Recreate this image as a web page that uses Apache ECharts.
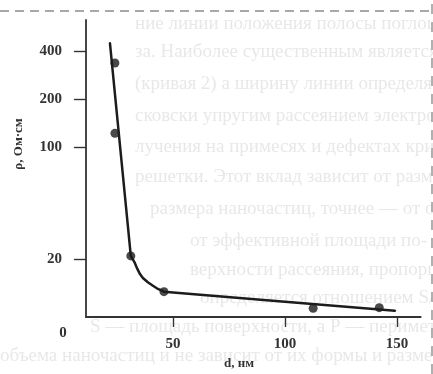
<!DOCTYPE html>
<html>
<head>
<meta charset="utf-8">
<script src="https://cdn.jsdelivr.net/npm/echarts@6/dist/echarts.min.js"></script>
<style>
  html, body { margin: 0; padding: 0; background: #fff; }
  #chart { width: 433px; height: 374px; }
</style>
</head>
<body>
<div id="chart"></div>
<script>
// Resistivity of a nanostructured film versus grain size d.
// Measured points, d in nm and ρ in Ом·см
const sizeMeasured = [24.1, 24.1, 31.2, 46.0, 112.6, 142.1];
const rhoMeasured  = [336, 122, 20.9, 12.5, 9.85, 9.93];

// Hand-drawn trend curve: steep fall, a short knee, then a slow linear decline
const sizeTrend = [21.9, 31.2, 33.0, 33.9, 35.3, 36.6, 38.8, 41.1, 43.3, 46.0, 100.0, 149.1];
const rhoTrend  = [446, 20.9, 18.9, 17.6, 16.1, 15.2, 14.3, 13.6, 13.0, 12.5, 10.8, 9.5];

// Axis ticks
const xTicks = [50, 100, 150];
const yTicks = [20, 100, 200, 400];

// Running text of the page the figure is printed on
const pageLines = [
  'ние линии положения полосы поглощения',
  'за. Наиболее существенным является',
  '(кривая 2) а ширину линии определяет',
  'сковски упругим рассеянием электронов',
  'лучения на примесях и дефектах крис',
  'решетки. Этот вклад зависит от разме',
  'размера наночастиц, точнее — от отно',
  'от эффективной площади по-',
  'верхности рассеяния, пропорцио',
  'определяется отношением S/P, где',
  'S — площадь поверхности, а P — периметр частицы',
  'объема наночастиц и не зависит от их формы и размера'
];
const pageLineX = [135, 135, 135, 135, 135, 135, 150, 190, 190, 200, 90, 0];
const pageLineY = [24, 52, 84, 116, 147, 177, 209, 241, 270, 298, 327, 356];

const lg = v => Math.log10(v);
const serif = '"Liberation Serif", "DejaVu Serif", serif';

// The ρ axis is logarithmic: values are plotted as log10(ρ) on a value axis
const yMin = lg(20) - 58 / 160;
const yMax = lg(20) + 239 / 160;

const chart = echarts.init(document.getElementById('chart'), null, { renderer: 'canvas' });

const pageText = pageLines.map((t, i) => ({
  type: 'text',
  z: -10,
  silent: true,
  x: pageLineX[i],
  y: pageLineY[i],
  style: {
    text: t,
    fill: '#e8e8e8',
    font: '19px ' + serif,
    verticalAlign: 'middle'
  }
}));

const labelStyle = { fontFamily: serif, fontSize: 15, fontWeight: 'bold', color: '#333' };

chart.setOption({
  animation: false,
  backgroundColor: '#ffffff',
  grid: { left: 86, right: 12.3, top: 20, bottom: 57, containLabel: false },
  xAxis: {
    type: 'value',
    min: 11.2,
    max: 160.6,
    axisLine: { show: true, lineStyle: { color: '#333', width: 1.8 } },
    axisTick: { show: true, inside: false, length: 10, customValues: xTicks,
                lineStyle: { color: '#333', width: 1.4 } },
    axisLabel: Object.assign({ customValues: xTicks, margin: 20 }, labelStyle),
    splitLine: { show: false }
  },
  yAxis: {
    type: 'value',
    min: yMin,
    max: yMax,
    axisLine: { show: true, lineStyle: { color: '#333', width: 1.8 } },
    axisTick: { show: true, inside: false, length: 12, customValues: yTicks.map(lg),
                lineStyle: { color: '#333', width: 1.4 } },
    axisLabel: Object.assign({
      customValues: yTicks.map(lg), margin: 24,
      formatter: v => String(Math.round(Math.pow(10, v)))
    }, labelStyle),
    splitLine: { show: false }
  },
  series: [
    {
      type: 'line',
      data: sizeTrend.map((d, i) => [d, lg(rhoTrend[i])]),
      smooth: false,
      showSymbol: false,
      symbol: 'none',
      lineStyle: { color: '#1c1c1c', width: 2.5, join: 'round', cap: 'round' },
      z: 2
    },
    {
      type: 'scatter',
      data: sizeMeasured.map((d, i) => [d, lg(rhoMeasured[i])]),
      symbol: 'circle',
      symbolSize: 9,
      itemStyle: { color: '#1c1c1c' },
      z: 3
    }
  ],
  graphic: pageText.concat([
    { type: 'line', z: -5, silent: true,
      shape: { x1: 0, y1: 11, x2: 433, y2: 11 },
      style: { stroke: '#a8a8a8', lineWidth: 2, lineDash: [9, 6] } },
    { type: 'line', z: -5, silent: true,
      shape: { x1: 432, y1: 4, x2: 432, y2: 374 },
      style: { stroke: '#b0b0b0', lineWidth: 2, lineDash: [10, 8] } },
    { type: 'text', x: 19, y: 144, rotation: Math.PI / 2,
      style: { text: 'ρ, Ом·см', font: 'bold 13px ' + serif, fill: '#333',
               align: 'center', verticalAlign: 'middle' } },
    { type: 'text', x: 239, y: 364,
      style: { text: 'd, нм', font: 'bold 13px ' + serif, fill: '#333',
               align: 'center', verticalAlign: 'middle' } },
    { type: 'text', x: 63, y: 333,
      style: { text: '0', font: 'bold 15px ' + serif, fill: '#333',
               align: 'center', verticalAlign: 'middle' } }
  ])
});
</script>
</body>
</html>
